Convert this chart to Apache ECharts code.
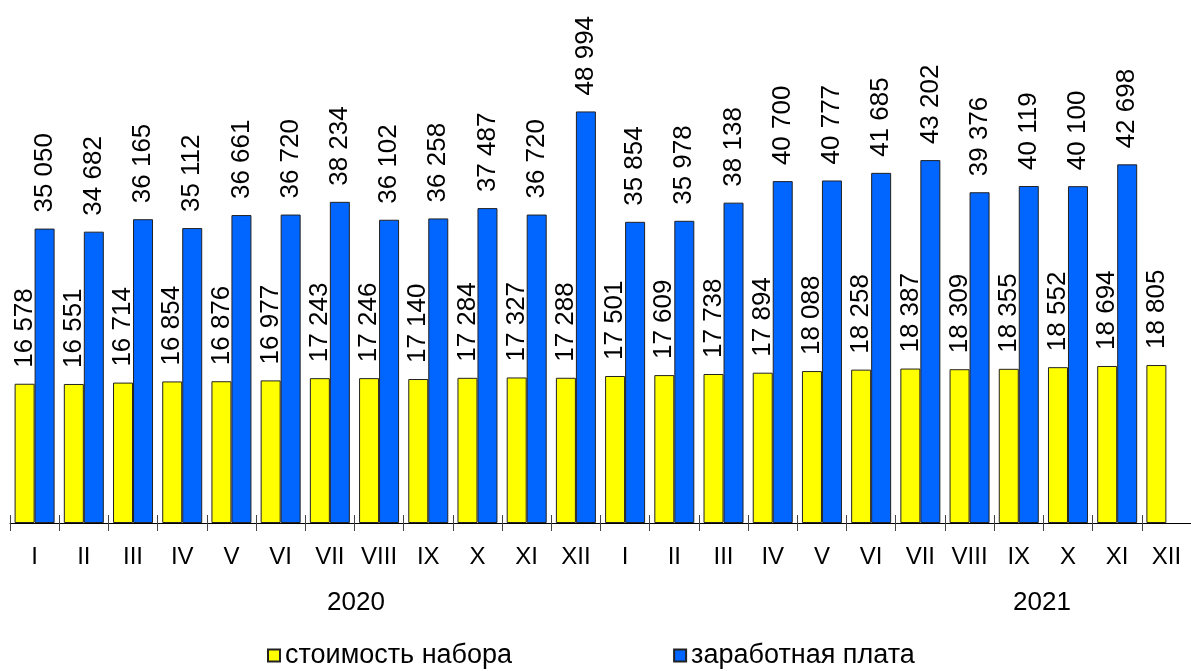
<!DOCTYPE html>
<html>
<head>
<meta charset="utf-8">
<script src="https://cdn.jsdelivr.net/npm/echarts@6/dist/echarts.min.js"></script>
<style>
  html, body { margin: 0; padding: 0; background: #fff; }
  #chart { width: 1191px; height: 671px; }
</style>
</head>
<body>
<div id="chart"></div>
<script>
var months = ['I', 'II', 'III', 'IV', 'V', 'VI', 'VII', 'VIII', 'IX', 'X', 'XI', 'XII',
              'I', 'II', 'III', 'IV', 'V', 'VI', 'VII', 'VIII', 'IX', 'X', 'XI', 'XII'];
var years = ['2020', '2021'];
var basketCost = [16578, 16551, 16714, 16854, 16876, 16977, 17243, 17246, 17140, 17284, 17327, 17288,
                  17501, 17609, 17738, 17894, 18088, 18258, 18387, 18309, 18355, 18552, 18694, 18805];
var salary = [35050, 34682, 36165, 35112, 36661, 36720, 38234, 36102, 36258, 37487, 36720, 48994,
              35854, 35978, 38138, 40700, 40777, 41685, 43202, 39376, 40119, 40100, 42698, null];
var seriesNames = ['стоимость набора', 'заработная плата'];

var FONT = '"Liberation Sans", Arial, sans-serif';

function fmt(v) {
    return String(v).replace(/\B(?=(\d{3})+(?!\d))/g, ' ');
}

var barLabel = {
    show: true,
    position: 'top',
    rotate: 90,
    align: 'left',
    verticalAlign: 'middle',
    distance: 16,
    color: '#000',
    fontFamily: FONT,
    fontSize: 26,
    formatter: function (p) { return fmt(p.value); }
};

var chart = echarts.init(document.getElementById('chart'));
chart.setOption({
    animation: false,
    textStyle: { fontFamily: FONT },
    grid: { left: 10, top: 19, width: 1192, height: 504 },
    xAxis: [
        {
            type: 'category',
            data: months,
            axisLine: { show: true, lineStyle: { color: '#000', width: 1 } },
            axisTick: { show: true, length: 8, lineStyle: { color: '#444' } },
            axisLabel: { color: '#000', fontSize: 24, fontFamily: FONT, margin: 22, interval: 0 }
        },
        {
            type: 'category',
            data: months,
            position: 'bottom',
            axisLine: { show: false },
            axisTick: { show: true, inside: true, length: 8, lineStyle: { color: '#444' } },
            axisLabel: { show: false }
        }
    ],
    yAxis: {
        type: 'value',
        min: 0,
        max: 60000,
        show: false,
        splitLine: { show: false }
    },
    legend: {
        left: 262,
        top: 637,
        icon: 'rect',
        itemWidth: 12,
        itemHeight: 12,
        itemGap: 161,
        textStyle: { color: '#000', fontSize: 27, fontFamily: FONT },
        data: seriesNames
    },
    graphic: [
        { type: 'text', x: 356, y: 603, style: { text: years[0], fill: '#000', font: '26px ' + FONT, align: 'center', verticalAlign: 'middle' } },
        { type: 'text', x: 1042, y: 603, style: { text: years[1], fill: '#000', font: '26px ' + FONT, align: 'center', verticalAlign: 'middle' } }
    ],
    series: [
        {
            name: seriesNames[0],
            type: 'bar',
            data: basketCost,
            barWidth: 20,
            barGap: '0%',
            itemStyle: { color: '#FFFF00', borderColor: '#222', borderWidth: 1 },
            label: barLabel
        },
        {
            name: seriesNames[1],
            type: 'bar',
            data: salary,
            barWidth: 20,
            barGap: '0%',
            itemStyle: { color: '#0066FF', borderColor: '#222', borderWidth: 1 },
            label: barLabel
        }
    ]
});
</script>
</body>
</html>
